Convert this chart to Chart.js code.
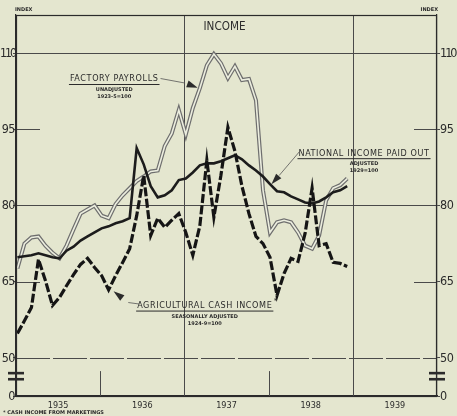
<!DOCTYPE html>
<html>
<head>
<meta charset="utf-8">
<script src="https://cdn.jsdelivr.net/npm/chart.js@4.4.0/dist/chart.umd.min.js"></script>
<style>
  html, body { margin: 0; padding: 0; background: #e4e6cf; }
  #wrap { width: 457px; height: 416px; }
</style>
</head>
<body>
<div id="wrap"><canvas id="income-chart" width="457" height="416"></canvas></div>
<script>
// monthly values, Jan 1935 .. Dec 1938 (index = month number)
const years = ['1935', '1936', '1937', '1938', '1939'];
const yTicks = [50, 65, 80, 95, 110];

const factoryPayrolls = [
    67.6, 72.5, 73.7, 73.9, 72.1, 70.7, 69.6, 72.1, 75.3, 78.4, 79.2, 80.0,
    78.0, 77.5, 80.3, 82.0, 83.4, 84.8, 85.7, 86.7, 86.9, 91.7, 94.2, 98.8,
    94.0, 99.2, 103.1, 107.6, 109.8, 108.0, 105.1, 107.4, 104.7, 104.9, 100.7, 83.0,
    74.7, 76.7, 77.1, 76.7, 74.7, 72.1, 71.5, 74.1, 81.0, 83.4, 84.0, 85.3
];
const nationalIncome = [
    69.8, 70.0, 70.2, 70.6, 70.2, 69.8, 69.6, 71.1, 71.9, 73.1, 73.9, 74.7,
    75.5, 75.9, 76.5, 76.9, 77.5, 91.3, 88.1, 83.8, 81.6, 82.0, 83.0, 85.0,
    85.3, 86.5, 87.9, 88.3, 88.3, 88.7, 89.3, 89.9, 89.1, 87.9, 86.9, 85.7,
    84.2, 82.8, 82.6, 81.8, 81.2, 80.6, 80.4, 80.8, 81.6, 82.6, 83.0, 83.8
];
const agriculturalIncome = [
    54.8, 57.3, 59.9, 69.4, 65.2, 60.3, 61.9, 64.2, 66.4, 68.4, 69.6, 67.8,
    66.2, 63.4, 66.2, 68.8, 71.5, 78.0, 85.9, 74.1, 77.5, 75.7, 77.1, 78.4,
    74.7, 70.2, 76.0, 88.9, 77.7, 85.9, 95.4, 90.7, 83.8, 78.4, 73.9, 72.5,
    69.8, 62.3, 66.6, 69.6, 69.0, 74.5, 83.4, 72.1, 72.5, 68.8, 68.6, 68.0
];

const BG = '#e4e6cf';
const INK = '#2b2b2b';
const GRID = '#4a4a4a';
const FONT = '"DejaVu Sans Condensed", "DejaVu Sans", sans-serif';

// axis starts a little before the first monthly point
const X_MIN = -0.2;
const BREAK_VALUE = 42.5;   // where the "0" of the broken axis sits

function points(arr) {
    return arr.map((v, i) => ({ x: i, y: v }));
}

const notes = [
    { text: 'FACTORY PAYROLLS', sub: ['UNADJUSTED', '1923-5=100'], at: [13.8, 104.9],
      leader: [[20.4, 105.0], [23.9, 104.1]], tip: [25.7, 103.2] },
    { text: 'NATIONAL INCOME PAID OUT', sub: ['ADJUSTED', '1929=100'], at: [49.4, 90.3],
      leader: [[40.2, 90.6], [37.3, 85.9]], tip: [36.2, 84.2] },
    { text: 'AGRICULTURAL CASH INCOME', sub: ['SEASONALLY ADJUSTED', '1924-9=100'], at: [26.7, 60.3],
      leader: [[17.4, 60.6], [15.8, 60.9]], tip: [13.7, 63.1], star: true }
];

function arrowHead(ctx, tx, ty, fx, fy, len, half) {
    const dx = tx - fx, dy = ty - fy;
    const d = Math.hypot(dx, dy);
    const ux = dx / d, uy = dy / d;
    const bx = tx - ux * len, by = ty - uy * len;
    ctx.beginPath();
    ctx.moveTo(tx, ty);
    ctx.lineTo(bx - uy * half, by + ux * half);
    ctx.lineTo(bx + uy * half, by - ux * half);
    ctx.closePath();
    ctx.fill();
}

// text squeezed horizontally when it is wider than maxW
function fitText(ctx, str, x, y, maxW, align) {
    const w = ctx.measureText(str).width;
    const k = Math.min(1, maxW / w);
    ctx.save();
    ctx.translate(x, y);
    ctx.scale(k, 1);
    ctx.textAlign = align;
    ctx.fillText(str, 0, 0);
    ctx.restore();
}

const chartFrame = {
    id: 'chartFrame',
    beforeDraw(chart) {
        const ctx = chart.ctx;
        ctx.save();
        ctx.fillStyle = BG;
        ctx.fillRect(0, 0, chart.width, chart.height);
        ctx.restore();
    },
    beforeDatasetsDraw(chart) {
        const { ctx, chartArea: a, scales: { x, y } } = chart;
        ctx.save();
        ctx.strokeStyle = GRID;
        ctx.lineWidth = 1;
        // year boundaries: full lines for 1937 and 1939, short ticks for 1936 and 1938
        years.forEach((yr, i) => {
            if (i === 0) return;
            const px = Math.round(x.getPixelForValue(i * 12 + X_MIN)) + 0.5;
            const top = (i % 2 === 0) ? a.top : y.getPixelForValue(47.4);
            ctx.beginPath();
            ctx.moveTo(px, top);
            ctx.lineTo(px, a.bottom);
            ctx.stroke();
        });
        // partial grid lines at 95 and 65
        [95, 65].forEach(v => {
            const py = Math.round(y.getPixelForValue(v)) + 0.5;
            ctx.beginPath();
            ctx.moveTo(a.left, py);
            ctx.lineTo(a.left + 24, py);
            ctx.moveTo(a.right - 23, py);
            ctx.lineTo(a.right, py);
            ctx.stroke();
        });
        // broken line at 50
        const p50 = Math.round(y.getPixelForValue(50)) + 0.5;
        ctx.setLineDash([34, 3]);
        ctx.beginPath();
        ctx.moveTo(a.left, p50);
        ctx.lineTo(a.right, p50);
        ctx.stroke();
        ctx.restore();
    },
    afterDraw(chart) {
        const { ctx, chartArea: a, scales: { x, y } } = chart;
        const P = (m, v) => [x.getPixelForValue(m), y.getPixelForValue(v)];
        ctx.save();
        // frame
        ctx.strokeStyle = INK;
        ctx.lineWidth = 1.2;
        ctx.strokeRect(a.left + 0.5, a.top + 0.5, a.right - a.left - 1, a.bottom - a.top);

        // value labels on both sides, placed by the y scale
        ctx.fillStyle = INK;
        ctx.textBaseline = 'middle';
        ctx.font = '12.5px ' + FONT;
        [BREAK_VALUE, ...yTicks].forEach(v => {
            const label = v === BREAK_VALUE ? '0' : String(v);
            const py = y.getPixelForValue(v) + 0.5;
            ctx.letterSpacing = label.includes('1') ? '-2px' : '-0.5px';
            fitText(ctx, label, a.left - 1, py, 15, 'right');
            fitText(ctx, label, a.right + 3, py, 17, 'left');
        });
        ctx.letterSpacing = '0px';

        // axis break marks on both sides
        [47.0, 45.8].forEach(v => {
            const py = y.getPixelForValue(v);
            ctx.fillRect(a.left - 8, py - 1.3, 16, 2.6);
            ctx.fillRect(a.right - 8, py - 1.3, 16, 2.6);
        });

        // title
        ctx.font = '13px ' + FONT;
        fitText(ctx, 'INCOME', (a.left + a.right) / 2 - 2, 27, 42, 'center');

        // INDEX captions
        ctx.font = 'bold 5px "DejaVu Sans", sans-serif';
        ctx.textAlign = 'left';
        ctx.fillText('INDEX', a.left - 1, 10);
        ctx.textAlign = 'right';
        ctx.fillText('INDEX', a.right + 1, 10);

        // footnote
        ctx.textAlign = 'left';
        ctx.fillText('* CASH INCOME FROM MARKETINGS', 3, 413);

        // series notes
        notes.forEach(n => {
            const [cx, cy] = P(n.at[0], n.at[1]);
            ctx.font = '9px ' + FONT;
            ctx.letterSpacing = '0.6px';
            ctx.textAlign = 'center';
            ctx.fillText(n.text, cx, cy);
            const w = ctx.measureText(n.text).width;
            ctx.letterSpacing = '0px';
            ctx.lineWidth = 1;
            ctx.strokeStyle = INK;
            ctx.beginPath();
            ctx.moveTo(cx - w / 2 - 1, cy + 5.5);
            ctx.lineTo(cx + w / 2 + 1, cy + 5.5);
            ctx.stroke();
            if (n.star) {
                ctx.font = '7px ' + FONT;
                ctx.fillText('*', cx + w / 2 + 3, cy - 4);
            }
            ctx.font = 'bold 5px "DejaVu Sans", sans-serif';
            n.sub.forEach((s, k) => ctx.fillText(s, cx, cy + 11 + k * 7));
            // leader and arrow
            const pts = n.leader.map(p => P(p[0], p[1]));
            const tip = P(n.tip[0], n.tip[1]);
            ctx.lineWidth = 0.8;
            ctx.strokeStyle = '#555';
            ctx.beginPath();
            ctx.moveTo(pts[0][0], pts[0][1]);
            pts.slice(1).forEach(p => ctx.lineTo(p[0], p[1]));
            ctx.stroke();
            const last = pts[pts.length - 1];
            arrowHead(ctx, tip[0], tip[1], last[0], last[1], 11, 3.5);
        });
        ctx.restore();
    }
};

const yAxis = (pos, width) => ({
    type: 'linear',
    position: pos,
    min: BREAK_VALUE,
    max: 117.5,
    afterBuildTicks: s => { s.ticks = [BREAK_VALUE, ...yTicks].map(v => ({ value: v })); },
    afterFit: s => { s.width = width; },
    ticks: { display: false },
    grid: {
        drawOnChartArea: pos === 'left',
        color: c => ([110, 80].includes(c.tick && c.tick.value) ? GRID : 'rgba(0,0,0,0)'),
        tickColor: GRID,
        tickLength: 3,
        lineWidth: 1
    },
    border: { display: true, color: INK, width: 1.2 }
});

const ctx = document.getElementById('income-chart').getContext('2d');
const incomeChart = new Chart(ctx, {
    type: 'line',
    data: {
        datasets: [
            {
                label: 'Agricultural cash income',
                data: points(agriculturalIncome),
                borderColor: '#151515',
                borderWidth: 3.2,
                borderDash: [9, 2.5],
                pointRadius: 0,
                tension: 0,
                order: 1
            },
            {
                label: 'National income paid out',
                data: points(nationalIncome),
                borderColor: '#1c1c1c',
                borderWidth: 2.6,
                pointRadius: 0,
                tension: 0,
                order: 2
            },
            {
                label: 'Factory payrolls inner',
                data: points(factoryPayrolls),
                borderColor: '#eceedf',
                borderWidth: 1.6,
                pointRadius: 0,
                tension: 0,
                order: 3
            },
            {
                label: 'Factory payrolls',
                data: points(factoryPayrolls),
                borderColor: '#6e6e6e',
                borderWidth: 4,
                pointRadius: 0,
                tension: 0,
                order: 4
            }
        ]
    },
    options: {
        responsive: false,
        animation: false,
        layout: { padding: { top: 15, left: 0, right: 0, bottom: 0 } },
        plugins: { legend: { display: false }, tooltip: { enabled: false } },
        scales: {
            x: {
                type: 'linear',
                min: X_MIN,
                max: 60 + X_MIN,
                afterBuildTicks: s => { s.ticks = years.map((yr, i) => ({ value: i * 12 + 6 + X_MIN })); },
                afterFit: s => { s.height = 20; },
                ticks: {
                    font: { family: FONT, size: 9 },
                    color: INK,
                    padding: 4,
                    maxRotation: 0,
                    autoSkip: false,
                    callback: (v, i) => years[i]
                },
                grid: { display: false, drawTicks: false },
                border: { display: true, color: INK, width: 1.2 }
            },
            y: yAxis('left', 16),
            y2: yAxis('right', 20)
        }
    },
    plugins: [chartFrame]
});
</script>
</body>
</html>
